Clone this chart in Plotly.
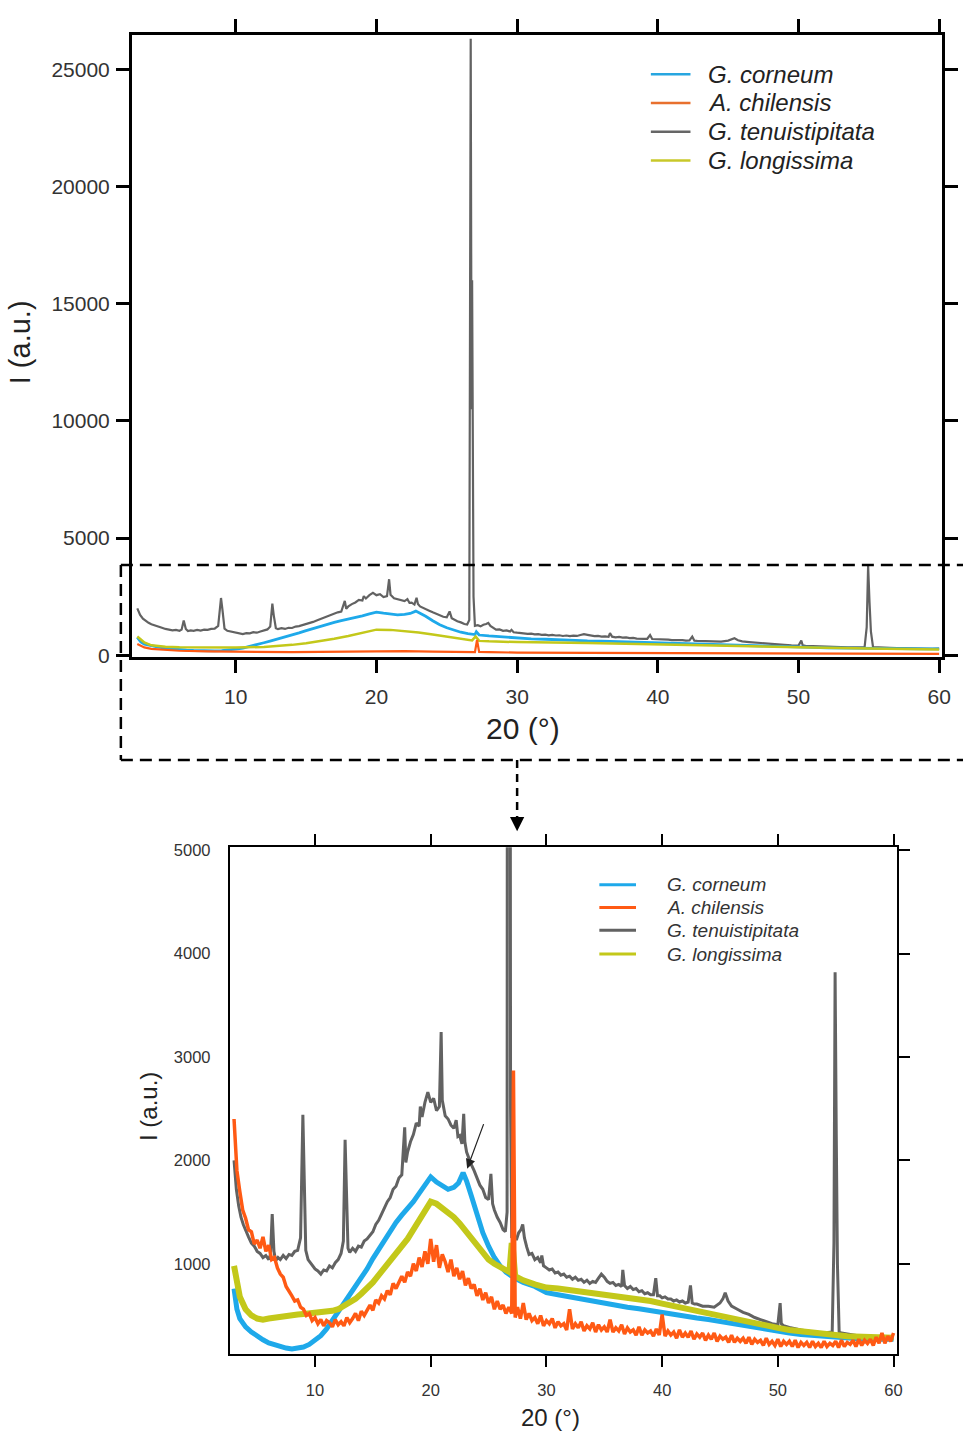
import plotly.graph_objects as go

W, H = 963, 1441

# ---------------- data (2theta in degrees, intensity in a.u.) ----------------
# G. tenuistipitata (grey) - used in both panels
gt_points = [
    (3.0, 2000), (3.2, 1720), (3.4, 1560), (3.6, 1450), (3.8, 1380), (4.0, 1320), (4.25, 1260), (4.5, 1200),
    (4.75, 1170), (5.0, 1120), (5.25, 1100), (5.5, 1060), (5.75, 1080), (6.0, 1040), (6.15, 1090), (6.3, 1480),
    (6.45, 1120), (6.6, 1030), (6.8, 1060), (7.0, 1040), (7.25, 1080), (7.5, 1050), (7.75, 1090), (8.0, 1080),
    (8.25, 1120), (8.5, 1130), (8.75, 1250), (8.95, 2440), (9.05, 1950), (9.2, 1130), (9.4, 1040), (9.6, 1010),
    (9.8, 990), (10.0, 950), (10.25, 930), (10.5, 900), (10.75, 940), (11.0, 930), (11.25, 980), (11.5, 960),
    (11.75, 1010), (12.0, 1040), (12.25, 1100), (12.45, 1220), (12.6, 2200), (12.7, 1700), (12.85, 1150),
    (13.0, 1110), (13.25, 1150), (13.5, 1120), (13.75, 1170), (14.0, 1160), (14.25, 1220), (14.5, 1240),
    (14.75, 1280), (15.0, 1310), (15.25, 1380), (15.5, 1420), (15.75, 1480), (16.0, 1540), (16.25, 1600),
    (16.5, 1640), (16.75, 1720), (17.0, 1750), (17.25, 1830), (17.5, 1860), (17.75, 2320), (17.85, 1980),
    (18.0, 2080), (18.25, 2180), (18.5, 2250), (18.75, 2360), (19.0, 2330), (19.1, 2520), (19.25, 2420),
    (19.5, 2560), (19.75, 2660), (20.0, 2560), (20.25, 2600), (20.5, 2480), (20.75, 2520), (20.9, 3240),
    (21.0, 2580), (21.25, 2430), (21.5, 2400), (21.75, 2340), (22.0, 2310), (22.2, 2390), (22.35, 2230),
    (22.5, 2240), (22.7, 2160), (22.85, 2450), (22.95, 2180), (23.1, 2080), (23.25, 2030), (23.5, 1960),
    (23.75, 1900), (24.0, 1830), (24.25, 1760), (24.5, 1720), (24.75, 1640), (25.0, 1620), (25.2, 1870),
    (25.35, 1580), (25.5, 1520), (25.75, 1450), (26.0, 1400), (26.25, 1330), (26.45, 1310), (26.6, 1500),
    (26.7, 26300), (26.76, 10500), (26.8, 16000), (26.9, 2500), (27.0, 1250), (27.2, 1280), (27.4, 1230),
    (27.6, 1300), (27.8, 1330), (27.95, 1380), (28.1, 1250), (28.3, 1160), (28.5, 1090), (28.75, 1100),
    (29.0, 1040), (29.25, 1060), (29.5, 1010), (29.6, 1080), (29.75, 980), (30.0, 960), (30.25, 940),
    (30.5, 950), (30.75, 910), (31.0, 920), (31.25, 890), (31.5, 900), (31.75, 870), (32.0, 880), (32.25, 850),
    (32.5, 870), (32.75, 840), (33.0, 850), (33.25, 820), (33.5, 840), (33.75, 810), (34.0, 830), (34.25, 820),
    (34.5, 860), (34.75, 900), (35.0, 870), (35.25, 830), (35.5, 810), (35.75, 820), (36.0, 790), (36.25, 800),
    (36.5, 780), (36.6, 940), (36.75, 790), (37.0, 760), (37.25, 780), (37.5, 750), (37.75, 760), (38.0, 730),
    (38.25, 740), (38.5, 710), (38.75, 720), (39.0, 700), (39.25, 700), (39.45, 860), (39.6, 690), (39.8, 690),
    (40.0, 670), (40.25, 680), (40.5, 660), (40.75, 660), (41.0, 640), (41.25, 650), (41.5, 630), (41.75, 640),
    (42.0, 620), (42.25, 630), (42.45, 790), (42.6, 620), (42.8, 610), (43.0, 610), (43.5, 590), (44.0, 590),
    (44.5, 580), (45.0, 620), (45.25, 660), (45.45, 720), (45.7, 640), (46.0, 590), (46.5, 560), (47.0, 530),
    (47.5, 510), (48.0, 480), (48.5, 460), (49.0, 440), (49.5, 420), (50.0, 410), (50.2, 620), (50.3, 420),
    (50.5, 400), (51.0, 385), (51.5, 370), (52.0, 360), (52.5, 350), (53.0, 340), (53.5, 335), (54.0, 330),
    (54.5, 335), (54.7, 340), (54.85, 1200), (54.95, 3820), (55.05, 2250), (55.15, 1000), (55.3, 340),
    (55.5, 330), (56.0, 320), (56.5, 310), (57.0, 300), (57.5, 290), (58.0, 280), (58.5, 275), (59.0, 270),
    (59.5, 275), (60.0, 280),
]

# G. corneum (blue) - used in both panels
gc_points = [
    (3.0, 760), (3.25, 560), (3.5, 470), (4.0, 390), (4.5, 340), (5.0, 300), (5.5, 265), (6.0, 235), (6.5, 215),
    (7.0, 200), (7.5, 185), (8.0, 175), (8.5, 180), (9.0, 195), (9.5, 220), (10.0, 260), (10.5, 305), (11.0, 370),
    (11.5, 450), (12.0, 530), (12.5, 610), (13.0, 690), (13.5, 770), (14.0, 860), (14.5, 950), (15.0, 1050),
    (15.5, 1140), (16.0, 1240), (16.5, 1320), (17.0, 1400), (17.5, 1470), (18.0, 1530), (18.5, 1600),
    (19.0, 1680), (19.5, 1760), (20.0, 1840), (20.5, 1790), (21.0, 1760), (21.5, 1720), (22.0, 1740),
    (22.4, 1780), (22.8, 1880), (23.1, 1800), (23.5, 1660), (24.0, 1470), (24.5, 1300), (25.0, 1170),
    (25.5, 1060), (26.0, 980), (26.5, 920), (27.0, 880), (27.1, 1000), (27.3, 860), (28.0, 820), (29.0, 780),
    (30.0, 720), (31.0, 700), (32.0, 680), (33.0, 650), (34.0, 630), (35.0, 610), (36.0, 600), (37.0, 580),
    (38.0, 565), (39.0, 545), (40.0, 530), (41.0, 510), (42.0, 490), (43.0, 475), (44.0, 460), (45.0, 440),
    (46.0, 420), (47.0, 400), (48.0, 380), (49.0, 360), (50.0, 345), (51.0, 330), (52.0, 315), (53.0, 305),
    (54.0, 295), (55.0, 285), (56.0, 280), (57.0, 275), (58.0, 270), (59.0, 268), (60.0, 270),
]

# G. longissima (yellow-green) - lower (zoomed) panel
gl_points = [
    (3.0, 980), (3.25, 780), (3.5, 680), (4.0, 560), (4.5, 500), (5.0, 470), (5.5, 460), (6.0, 470), (6.5, 480),
    (7.0, 490), (7.5, 500), (8.0, 505), (8.5, 510), (9.0, 515), (9.5, 520), (10.0, 525), (10.5, 530),
    (11.0, 535), (11.5, 545), (12.0, 560), (12.5, 590), (13.0, 620), (13.5, 660), (14.0, 710), (14.5, 760),
    (15.0, 820), (15.5, 890), (16.0, 960), (16.5, 1030), (17.0, 1090), (17.5, 1150), (18.0, 1240),
    (18.5, 1330), (19.0, 1420), (19.5, 1510), (20.0, 1600), (20.5, 1580), (21.0, 1540), (21.5, 1500),
    (22.0, 1450), (22.5, 1390), (23.0, 1320), (23.5, 1240), (24.0, 1160), (24.5, 1090), (25.0, 1040),
    (25.5, 1000), (26.0, 970), (26.5, 940), (26.8, 920), (27.0, 1200), (27.1, 1150), (27.3, 880), (28.0, 840),
    (29.0, 800), (30.0, 770), (31.0, 760), (32.0, 745), (33.0, 735), (34.0, 720), (35.0, 705), (36.0, 690),
    (37.0, 675), (38.0, 660), (39.0, 640), (40.0, 615), (41.0, 590), (42.0, 565), (43.0, 540), (44.0, 515),
    (45.0, 490), (46.0, 465), (47.0, 440), (48.0, 420), (49.0, 400), (50.0, 380), (51.0, 360), (52.0, 345),
    (53.0, 335), (54.0, 320), (55.0, 310), (56.0, 300), (57.0, 295), (58.0, 290), (59.0, 285), (60.0, 285),
]

# A. chilensis (orange) - lower (zoomed) panel
ac_points = [
    (3.0, 2400), (3.25, 1900), (3.5, 1700), (3.75, 1520), (4.0, 1440), (4.25, 1330), (4.5, 1310), (4.75, 1190),
    (5.0, 1230), (5.25, 1150), (5.5, 1260), (5.75, 1120), (6.0, 1180), (6.25, 1040), (6.5, 1060), (6.75, 960),
    (7.0, 900), (7.25, 870), (7.5, 780), (7.75, 740), (8.0, 690), (8.25, 640), (8.5, 650), (8.75, 580),
    (9.0, 560), (9.25, 500), (9.5, 520), (9.75, 450), (10.0, 480), (10.25, 420), (10.5, 460), (10.75, 400),
    (11.0, 450), (11.25, 430), (11.5, 390), (11.75, 460), (12.0, 410), (12.25, 440), (12.5, 400), (12.75, 480),
    (13.0, 430), (13.25, 470), (13.5, 520), (13.75, 450), (14.0, 540), (14.25, 500), (14.5, 560), (14.75, 600),
    (15.0, 550), (15.25, 650), (15.5, 620), (15.75, 690), (16.0, 660), (16.25, 740), (16.5, 700), (16.75, 810),
    (17.0, 760), (17.25, 830), (17.5, 880), (17.75, 820), (18.0, 920), (18.25, 880), (18.5, 1000), (18.75, 930),
    (19.0, 1060), (19.25, 970), (19.5, 1120), (19.75, 1000), (20.0, 1240), (20.25, 1020), (20.5, 1180),
    (20.75, 960), (21.0, 1090), (21.25, 1020), (21.5, 920), (21.75, 1040), (22.0, 880), (22.25, 960),
    (22.5, 850), (22.75, 930), (23.0, 790), (23.25, 860), (23.5, 760), (23.75, 800), (24.0, 690), (24.25, 760),
    (24.5, 650), (24.75, 720), (25.0, 620), (25.25, 680), (25.5, 560), (25.75, 640), (26.0, 560), (26.25, 600),
    (26.5, 520), (26.75, 580), (27.0, 520), (27.15, 2870), (27.3, 480), (27.5, 580), (27.75, 470), (28.0, 620),
    (28.25, 460), (28.5, 520), (28.75, 450), (29.0, 480), (29.25, 420), (29.5, 500), (29.75, 400), (30.0, 450),
    (30.25, 420), (30.5, 470), (30.75, 380), (31.0, 440), (31.25, 400), (31.5, 420), (31.75, 360), (32.0, 560),
    (32.25, 370), (32.5, 420), (32.75, 380), (33.0, 440), (33.25, 350), (33.5, 400), (33.75, 370), (34.0, 430),
    (34.25, 340), (34.5, 410), (34.75, 360), (35.0, 390), (35.25, 340), (35.5, 460), (35.75, 340), (36.0, 380),
    (36.25, 350), (36.5, 410), (36.75, 320), (37.0, 380), (37.25, 340), (37.5, 360), (37.75, 310), (38.0, 390),
    (38.25, 310), (38.5, 360), (38.75, 330), (39.0, 350), (39.25, 300), (39.5, 370), (39.75, 310), (40.0, 510),
    (40.25, 300), (40.5, 350), (40.75, 310), (41.0, 340), (41.25, 280), (41.5, 360), (41.75, 290), (42.0, 330),
    (42.25, 290), (42.5, 350), (42.75, 270), (43.0, 320), (43.25, 290), (43.5, 330), (43.75, 260), (44.0, 310),
    (44.25, 270), (44.5, 330), (44.75, 250), (45.0, 300), (45.25, 270), (45.5, 290), (45.75, 240), (46.0, 310),
    (46.25, 240), (46.5, 280), (46.75, 250), (47.0, 280), (47.25, 230), (47.5, 290), (47.75, 220), (48.0, 270),
    (48.25, 240), (48.5, 260), (48.75, 210), (49.0, 280), (49.25, 220), (49.5, 250), (49.75, 210), (50.0, 270),
    (50.25, 200), (50.5, 250), (50.75, 220), (51.0, 250), (51.25, 200), (51.5, 260), (51.75, 190), (52.0, 240),
    (52.25, 210), (52.5, 240), (52.75, 190), (53.0, 250), (53.25, 200), (53.5, 230), (53.75, 190), (54.0, 250),
    (54.25, 200), (54.5, 230), (54.75, 210), (55.0, 250), (55.25, 190), (55.5, 260), (55.75, 200), (56.0, 240),
    (56.25, 220), (56.5, 260), (56.75, 200), (57.0, 270), (57.25, 210), (57.5, 260), (57.75, 230), (58.0, 270),
    (58.25, 210), (58.5, 290), (58.75, 230), (59.0, 330), (59.25, 230), (59.5, 300), (59.75, 250), (60.0, 330),
]

# Upper (full-range) panel versions of A. chilensis and G. longissima
ac_top_points = [
    (3.0, 480), (3.5, 330), (4.0, 270), (5.0, 220), (6.0, 190), (8.0, 160), (10.0, 140), (12.0, 130), (14.0, 130),
    (16.0, 140), (18.0, 160), (20.0, 180), (22.0, 170), (24.0, 150), (26.0, 130), (27.0, 130), (27.15, 650),
    (27.3, 140), (28.0, 130), (30.0, 110), (35.0, 100), (40.0, 90), (45.0, 80), (50.0, 70), (55.0, 60), (60.0, 60),
]
gl_top_points = [
    (3.0, 800), (3.5, 540), (4.0, 420), (5.0, 360), (6.0, 340), (8.0, 330), (10.0, 330), (12.0, 350), (13.0, 390),
    (14.0, 440), (15.0, 510), (16.0, 600), (17.0, 700), (18.0, 820), (19.0, 960), (20.0, 1090), (21.0, 1080),
    (22.0, 1040), (23.0, 970), (24.0, 880), (25.0, 780), (26.0, 680), (26.8, 630), (27.05, 800), (27.3, 610),
    (28.0, 590), (30.0, 560), (35.0, 520), (40.0, 470), (45.0, 410), (50.0, 340), (55.0, 280), (60.0, 240),
]

names = ["G. corneum", "A. chilensis", "G. tenuistipitata", "G. longissima"]
colors = {"G. corneum": "#1ea9ea", "A. chilensis": "#ff5a14",
          "G. tenuistipitata": "#626262", "G. longissima": "#c3c81a"}
legend_colors_top = ["#27a6e0", "#e8702e", "#666666", "#c8c82a"]

top_ticks_y = [0, 5000, 10000, 15000, 20000, 25000]
bot_ticks_y = [1000, 2000, 3000, 4000, 5000]
ticks_x = [10, 20, 30, 40, 50, 60]


def xy(points):
    return [p[0] for p in points], [p[1] for p in points]


def px(x):
    return x / W


def py(y):
    return 1 - y / H


fig = go.Figure()


def add_line(points, name, width, xa, ya):
    x, y = xy(points)
    fig.add_trace(go.Scatter(x=x, y=y, mode="lines", name=name, line=dict(color=colors[name], width=width),
                             xaxis=xa, yaxis=ya, showlegend=False))


# ---- upper panel ----
add_line(gt_points, "G. tenuistipitata", 2.2, "x", "y")
add_line(gc_points, "G. corneum", 2.8, "x", "y")
add_line(gl_top_points, "G. longissima", 2.5, "x", "y")
add_line(ac_top_points, "A. chilensis", 2.2, "x", "y")

# ---- lower panel ----
add_line(gt_points, "G. tenuistipitata", 3, "x2", "y2")
add_line(gc_points, "G. corneum", 5, "x2", "y2")
add_line(gl_points, "G. longissima", 6, "x2", "y2")
add_line(ac_points, "A. chilensis", 3.5, "x2", "y2")

# carrier for the right-hand tick axis of the lower panel
fig.add_trace(go.Scatter(x=[30], y=[1000], mode="markers", marker=dict(opacity=0), hoverinfo="skip",
                         xaxis="x2", yaxis="y3", showlegend=False))

font_family = "Liberation Sans, Arial, sans-serif"
tickfont_top = dict(family=font_family, size=21, color="#333333")
tickfont_bot = dict(family=font_family, size=16.5, color="#333333")

fig.update_layout(
    width=W, height=H, margin=dict(l=0, r=0, t=0, b=0),
    paper_bgcolor="white", plot_bgcolor="white",
    xaxis=dict(domain=[px(133), px(951)], range=[2.606, 60.21], anchor="y",
               tickvals=ticks_x, ticks="outside", ticklen=13, tickwidth=2.5, tickcolor="black",
               showline=True, linecolor="black", linewidth=2.5, mirror="ticks",
               showgrid=False, zeroline=False, tickfont=tickfont_top, ticklabelstandoff=6),
    yaxis=dict(domain=[py(658), py(29)], range=[-84, 26478], anchor="x",
               tickvals=top_ticks_y, tickformat="d", ticks="outside", ticklen=13, tickwidth=2.5,
               tickcolor="black", showline=True, linecolor="black", linewidth=2.5, mirror="ticks",
               showgrid=False, zeroline=False, tickfont=tickfont_top, ticklabelstandoff=2),
    xaxis2=dict(domain=[px(232), px(905)], range=[2.637, 60.26], anchor="y2",
                tickvals=ticks_x, ticks="outside", ticklen=11, tickwidth=2, tickcolor="black",
                showline=True, linecolor="black", linewidth=2, mirror="ticks",
                showgrid=False, zeroline=False, tickfont=tickfont_bot, ticklabelstandoff=9),
    yaxis2=dict(domain=[py(1362), py(850)], range=[129, 5029], anchor="x2",
                tickvals=bot_ticks_y, tickformat="d", ticks="",
                showline=True, linecolor="black", linewidth=2, mirror=True,
                showgrid=False, zeroline=False, tickfont=tickfont_bot, ticklabelstandoff=14),
    yaxis3=dict(overlaying="y2", side="right", anchor="x2", range=[129, 5029],
                tickvals=bot_ticks_y, ticks="outside", ticklen=12, tickwidth=2, tickcolor="black",
                showticklabels=False, showline=False, showgrid=False, zeroline=False),
)

ann = []
shapes = []


def text_ann(text, x, y, size, color="#222222", angle=0, xanchor="center"):
    ann.append(dict(text=text, x=px(x), y=py(y), xref="paper", yref="paper", showarrow=False,
                    xanchor=xanchor, yanchor="middle", textangle=angle,
                    font=dict(family=font_family, size=size, color=color)))


# axis titles
text_ann("I (a.u.)", 21, 340, 29, angle=-90)
text_ann("20 (°)", 528, 730, 30)
text_ann("I (a.u.)", 150, 1112, 24, angle=-90)
text_ann("20 (°)", 556, 1426, 24)

# legends (drawn manually to match the original placement)
top_rows = [69, 98, 127, 156]
bot_rows = [888, 911, 934, 958]
for i, n in enumerate(names):
    shapes.append(dict(type="line", xref="paper", yref="paper", x0=px(657), x1=px(697),
                       y0=py(top_rows[i]), y1=py(top_rows[i]),
                       line=dict(color=legend_colors_top[i], width=2.5)))
    text_ann("<i>" + n + "</i>", 713, top_rows[i], 24, xanchor="left")
    shapes.append(dict(type="line", xref="paper", yref="paper", x0=px(605), x1=px(642),
                       y0=py(bot_rows[i]), y1=py(bot_rows[i]),
                       line=dict(color=colors[n], width=3)))
    text_ann("<i>" + n + "</i>", 671, bot_rows[i], 19, color="#333333", xanchor="left")

# dashed zoom box and connecting arrow
dash = "12px,7px"
shapes.append(dict(type="line", xref="paper", yref="paper", x0=px(122), x1=px(975), y0=py(565), y1=py(565),
                   line=dict(color="black", width=2.5, dash=dash)))
shapes.append(dict(type="line", xref="paper", yref="paper", x0=px(122), x1=px(975), y0=py(762), y1=py(762),
                   line=dict(color="black", width=2.5, dash=dash)))
shapes.append(dict(type="line", xref="paper", yref="paper", x0=px(122), x1=px(122), y0=py(565), y1=py(762),
                   line=dict(color="black", width=2.5, dash=dash)))
shapes.append(dict(type="line", xref="paper", yref="paper", x0=px(522), x1=px(522), y0=py(762), y1=py(820),
                   line=dict(color="black", width=2.5, dash="8px,6px")))
ann.append(dict(text="", x=px(522), y=py(834), xref="paper", yref="paper", showarrow=True,
                ax=0, ay=-14, arrowhead=2, arrowsize=1.3, arrowwidth=2.2, arrowcolor="black"))

# arrow marking the G. corneum reflection
ann.append(dict(text="", x=23.15, y=1920, xref="x2", yref="y2", showarrow=True,
                ax=17, ay=-46, arrowhead=2, arrowsize=1.6, arrowwidth=1.2, arrowcolor="#222222"))

fig.update_layout(annotations=ann, shapes=shapes)
fig.write_html("out.html")
